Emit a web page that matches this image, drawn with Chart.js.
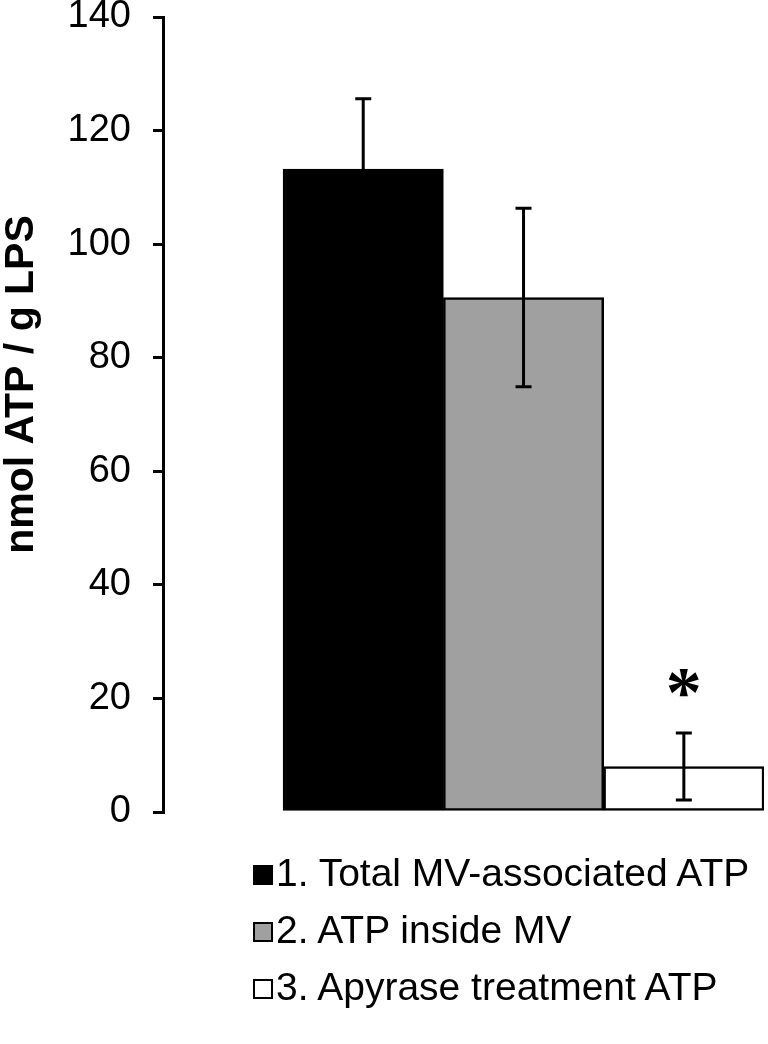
<!DOCTYPE html>
<html>
<head>
<meta charset="utf-8">
<script src="https://cdn.jsdelivr.net/npm/chart.js@4.4.0/dist/chart.umd.min.js"></script>
<style>
  html, body { margin: 0; padding: 0; background: #fff; }
  #wrap { position: relative; width: 768px; height: 1044px; }
  #legend {
    position: absolute; left: 253px; top: 844px;
    font-family: "Liberation Sans", Arial, sans-serif; font-size: 39px; color: #000;
  }
  .item { display: flex; align-items: center; height: 57px; white-space: nowrap; }
  .box { width: 20px; height: 20px; box-sizing: border-box; border: 2px solid #000; margin: 5px 3px 0 0; }
</style>
</head>
<body>
<div id="wrap">
  <canvas id="atpChart"></canvas>
  <div id="legend"></div>
</div>
<script>
// Chart data
const categories = ['1. Total MV-associated ATP', '2. ATP inside MV', '3. Apyrase treatment ATP'];
const values = [113.2, 90.6, 8.0];
const errors = [12.4, 15.7, 5.9];
const marks = ['', '', '*'];
const yTicks = [0, 20, 40, 60, 80, 100, 120, 140];

const fills = ['#000000', '#a0a0a0', '#ffffff'];
const FONT = '"Liberation Sans", Arial, sans-serif';

// Error bars + significance marks
const errorBars = {
  id: 'errorBars',
  afterDatasetsDraw(chart) {
    const ctx = chart.ctx;
    const y = chart.scales.y;
    ctx.save();
    ctx.strokeStyle = '#000';
    ctx.lineWidth = 3;
    chart.data.datasets.forEach((ds, i) => {
      const bar = chart.getDatasetMeta(i).data[0];
      if (!bar) return;
      const top = y.getPixelForValue(values[i] + errors[i]);
      const bot = y.getPixelForValue(values[i] - errors[i]);
      ctx.beginPath();
      ctx.moveTo(bar.x, top); ctx.lineTo(bar.x, bot);
      ctx.moveTo(bar.x - 8, top); ctx.lineTo(bar.x + 8, top);
      ctx.moveTo(bar.x - 8, bot); ctx.lineTo(bar.x + 8, bot);
      ctx.stroke();
      if (marks[i]) {
        ctx.font = 'bold 72px "Liberation Serif", serif';
        ctx.fillStyle = '#000';
        ctx.textAlign = 'center';
        ctx.textBaseline = 'alphabetic';
        const m = ctx.measureText(marks[i]);
        const mid = (m.actualBoundingBoxAscent - m.actualBoundingBoxDescent) / 2;
        ctx.fillText(marks[i], bar.x, top - 50 + mid);
      }
    });
    ctx.restore();
  }
};

// Rotated y-axis title
const yTitle = {
  id: 'yTitle',
  afterDraw(chart) {
    const ctx = chart.ctx;
    const area = chart.chartArea;
    ctx.save();
    ctx.translate(area.left - 130, (area.top + area.bottom) / 2 - 30);
    ctx.rotate(-Math.PI / 2);
    ctx.font = 'bold 41px ' + FONT;
    ctx.fillStyle = '#000';
    ctx.textAlign = 'center';
    ctx.textBaseline = 'alphabetic';
    ctx.fillText('nmol ATP / g LPS', 0, 0);
    ctx.restore();
  }
};

// HTML legend, one item per row
const htmlLegend = {
  id: 'htmlLegend',
  afterUpdate(chart) {
    const el = document.getElementById('legend');
    el.innerHTML = '';
    chart.options.plugins.legend.labels.generateLabels(chart).forEach(item => {
      const row = document.createElement('div');
      row.className = 'item';
      const box = document.createElement('span');
      box.className = 'box';
      box.style.background = item.fillStyle;
      const txt = document.createElement('span');
      txt.textContent = item.text;
      row.appendChild(box);
      row.appendChild(txt);
      el.appendChild(row);
    });
  }
};

new Chart(document.getElementById('atpChart'), {
  type: 'bar',
  data: {
    datasets: categories.map((label, i) => ({
      label: label,
      data: [{ x: i, y: values[i] }],
      backgroundColor: fills[i],
      borderColor: '#000',
      borderWidth: 2.5,
      borderSkipped: false,
      grouped: false,
      barPercentage: 1,
      categoryPercentage: 1
    }))
  },
  options: {
    responsive: true,
    maintainAspectRatio: false,
    animation: false,
    layout: { padding: { left: 0, top: 17, right: 4, bottom: 232 } },
    plugins: {
      legend: { display: false },
      tooltip: { enabled: false }
    },
    scales: {
      x: {
        type: 'linear',
        display: false,
        offset: false,
        min: -1.249,
        max: 2.5,
        afterBuildTicks: scale => {
          scale.ticks = categories.map((c, i) => ({ value: i }));
        }
      },
      y: {
        min: yTicks[0],
        max: yTicks[yTicks.length - 1],
        ticks: {
          stepSize: yTicks[1] - yTicks[0],
          color: '#000',
          font: { family: FONT, size: 38 },
          padding: 22
        },
        grid: { drawOnChartArea: false, color: '#000', lineWidth: 3, tickLength: 10 },
        border: { color: '#000', width: 3 },
        afterFit: scale => {
          scale.width = 163;
          scale.paddingTop = 0;
          scale.paddingBottom = 0;
        }
      }
    }
  },
  plugins: [errorBars, yTitle, htmlLegend]
});
</script>
</body>
</html>
